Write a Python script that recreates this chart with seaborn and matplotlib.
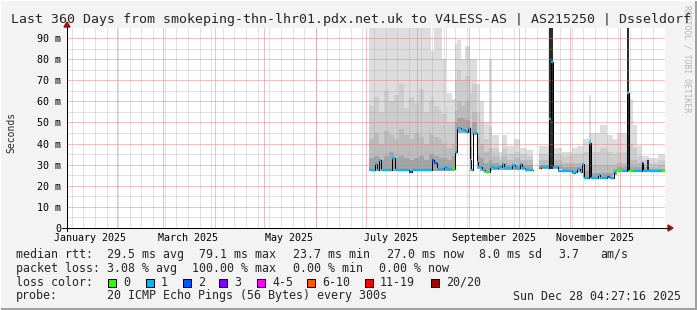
import numpy as np
import pandas as pd
import matplotlib
matplotlib.use("Agg")
import matplotlib.pyplot as plt
import matplotlib.transforms as mtrans
from matplotlib.patches import Rectangle, Polygon
from matplotlib.lines import Line2D
import seaborn as sns

nan = np.nan

# ---------------- data ----------------
TITLE = "Last 360 Days from smokeping-thn-lhr01.pdx.net.uk to V4LESS-AS | AS215250 | Dsseldorf"
view_start_day = 1.19      # days since 2025-01-01 00:00
view_end_day = 361.19
month_start_days = [0, 31, 59, 90, 120, 151, 181, 212, 243, 273, 304, 334]
month_label_days = [15, 74, 135, 196, 258, 319]
month_labels = ["January 2025", "March 2025", "May 2025", "July 2025",
                "September 2025", "November 2025"]
first_sunday_day = 4
y_ticks = [0, 10, 20, 30, 40, 50, 60, 70, 80, 90]
y_tick_labels = ["0", "10 m", "20 m", "30 m", "40 m", "50 m", "60 m", "70 m", "80 m", "90 m"]

# median rtt (ms) as steps: start day, value, loss class (-1 = no data)
med_day = [183.0, 186.6, 187.8, 189.0, 190.2, 196.8, 198.7, 207.1, 208.9, 220.9,
           222.1, 223.9, 228.1, 229.4, 233.0, 234.8, 236.0, 238.4, 240.8, 242.6,
           243.8, 244.5, 245.6, 248.0, 248.6, 251.0, 252.8, 255.8, 258.2, 260.6,
           263.0, 264.2, 269.1, 270.9, 273.9, 275.1, 276.9, 281.7, 285.3, 286.5,
           290.8, 291.4, 292.6, 293.5, 296.8, 305.2, 307.0, 308.2, 310.0, 311.0,
           312.4, 315.4, 316.6, 320.9, 322.1, 326.3, 328.1, 330.5, 331.1, 335.3,
           338.3, 339.8, 341.9, 347.3, 348.2, 359.4]
med_ms = [27.5, 30.5, 27.5, 32.0, 27.5, 33.0, 27.5, 26.5, 27.5, 32.0,
          31.0, 28.0, 29.0, 28.0, 28.0, 36.0, 47.5, 46.5, 45.5, 47.5,
          32.0, 27.5, 45.0, 31.5, 29.0, 27.5, 26.5, 29.0, 28.5, 29.0,
          30.5, 28.5, 30.0, 28.5, 30.5, 28.5, 27.5, nan, 28.5, 29.0,
          28.5, 51.6, 78.8, 29.0, 27.0, 26.0, 26.7, 28.0, 26.7, 30.5,
          23.9, 40.3, 23.6, 25.0, 23.6, 24.2, 23.6, 26.5, 27.2, 27.2,
          64.0, 27.2, 27.2, 30.8, 27.2, 27.0]
med_loss = [1, 1, 1, 1, 1, 1, 1, 2, 1, 2,
            2, 1, 1, 1, 0, 1, 1, 1, 1, 1,
            1, 1, 1, 1, 1, 1, 0, 1, 1, 1,
            1, 1, 1, 1, 1, 1, 1, -1, 5, 1,
            1, 1, 1, 1, 1, 1, 1, 1, 1, 1,
            1, 1, 1, 1, 1, 2, 1, 1, 0, 1,
            1, 0, 1, 3, 1, 0]

# smoke (ping spread, ms) per bucket start day
smoke_day = [183, 186, 189, 192, 195, 198, 201, 204, 207, 210,
             213, 216, 219, 220.5, 222.2, 225, 227.2, 229.4, 230, 233,
             234.8, 236, 238.5, 241, 243.8, 245, 248, 250, 252, 255,
             257, 261, 263, 266, 270, 274, 278, 281.7, 285.3, 291.4,
             293.8, 299, 305, 308, 311.8, 315.4, 316.6, 322.1, 326.3, 329.9,
             332.5, 338.3, 339.8, 341.9, 344.5, 347.3, 350.5, 351.5, 357]
smoke_max = [100, 100, 100, 100, 100, 100, 100, 100, 100, 100,
             100, 100, 100, 84, 100, 100, 80, 100, 64, 61,
             87, 89, 80, 86, 80, 80, 68, 60, 50, 80,
             44, 36, 44, 39, 42, 38, 37, nan, 39, 100,
             38, 36, 38, 39, 42, 63, 45, 49, 44, 42,
             45, 100, 61, 49, 39, 34, 34, 33, 35]
smoke_p2 = [58, 62, 55, 65, 60, 63, 68, 57, 62, 59,
            66, 55, 60, 62, 58, 56, 54, 58, 50, 50,
            70, 75, 70, 72, 64, 68, 55, 50, 42, 48,
            38, 34, 38, 35, 36, 35, 34, nan, 35, 100,
            35, 34, 35, 35, 36, 45, 36, 38, 36, 35,
            36, 100, 40, 38, 34, 32, 33, 31, 32]
smoke_p3 = [42, 45, 40, 46, 44, 42, 47, 44, 42, 45,
            43, 40, 45, 44, 43, 42, 40, 42, 38, 40,
            56, 60, 58, 60, 48, 55, 42, 40, 36, 38,
            34, 32, 34, 32, 33, 32, 32, nan, 32, 100,
            32, 31, 31, 31, 30, 42, 30, 30, 30, 30,
            31, 100, 32, 32, 31, 30, 32, 29, 30]
smoke_p4 = [33, 34, 32, 34, 36, 33, 34, 33, 32, 33,
            34, 32, 35, 35, 34, 33, 33, 33, 32, 34,
            50, 52, 52, 51, 38, 50, 34, 33, 31, 32,
            31, 30, 31, 30, 30, 30, 30, nan, 30, 100,
            30, 29, 29, 29, 27, 41, 26, 26, 26, 28,
            29, 100, 29, 29, 29, 29, 32, 28, 28]
smoke_core = [27, 27, 27, 27, 27, 27, 27, 27, 27, 27,
              27, 27, 27, 27, 27, 27, 27, 27, 27, 27,
              35, 45, 45, 45, 27, 44, 28, 27, 26, 27,
              27.5, 27.5, 27.5, 27.5, 27.5, 27.5, 27.5, nan, 28, 100,
              28, 27, 26, 26.5, 23.5, 40, 23.5, 23.5, 23.5, 25,
              27, 100, 27, 27, 27, 27, 32, 27, 27]
smoke_min = [27, 27, 27, 27, 27, 27, 27, 27, 27, 27,
             27, 27, 27, 27, 27, 27, 27, 27, 27, 27,
             35, 45, 45, 45, 27, 44, 28, 27, 26, 27,
             27.5, 27.5, 27.5, 27.5, 27.5, 27.5, 27.5, nan, 28, 28,
             28, 27, 26, 26.5, 23.5, 23.5, 23.5, 23.5, 23.5, 25,
             27, 27, 27, 27, 27, 27, 27, 27, 27]

loss_labels = ["0", "1", "2", "3", "4-5", "6-10", "11-19", "20/20"]
loss_colors = ["#26ff00", "#00b8ff", "#0059ff", "#7e00ff", "#ff00ff",
               "#ff5500", "#ff0000", "#a10000"]

legend_rtt = [("median rtt:", 16), ("29.5 ms avg", 107), ("79.1 ms max", 199),
              ("23.7 ms min", 293), ("27.0 ms now", 386.5), ("8.0 ms sd", 479),
              ("3.7", 558), ("am/s", 600)]
legend_loss = [("packet loss:", 16), ("3.08 % avg", 107), ("100.00 % max", 192),
               ("0.00 % min", 293), ("0.00 % now", 379)]
probe_text = "20 ICMP Echo Pings (56 Bytes) every 300s"
stamp_text = "Sun Dec 28 04:27:16 2025"

# ---------------- figure ----------------
sns.set_style("white")
plt.rcParams["font.family"] = ["DejaVu Sans Mono"]

W, H = 697, 310
BG = "#f3f3f3"
fig = plt.figure(figsize=(W / 100, H / 100), dpi=100, facecolor=BG)


def fx(x):
    return x / W


def fy(y):
    return 1 - y / H


PX = 0.72  # one pixel in points
ax = fig.add_axes([fx(67), fy(228), (665 - 67) / W, (228 - 28) / H])
ax.set_facecolor("white")
ax.set_xlim(view_start_day, view_end_day)
ax.set_ylim(0, 200 / 2.111)
for s in ax.spines.values():
    s.set_visible(False)


def expand(starts, vals, end):
    xs, ys = [], []
    for i, v in enumerate(vals):
        e = starts[i + 1] if i + 1 < len(starts) else end
        xs += [starts[i], e]
        ys += [v, v]
    return np.array(xs, float), np.array(ys, float)


sx, lo = expand(smoke_day, smoke_min, view_end_day)
layers = [(smoke_max, "#dddddd"), (smoke_p2, "#cdcdcd"),
          (smoke_p3, "#bcbcbc"), (smoke_p4, "#a4a4a4"),
          (smoke_core, "#2b2b2b")]
for hi_vals, col in layers:
    _, hi = expand(smoke_day, hi_vals, view_end_day)
    ax.fill_between(sx, lo, hi, color=col, lw=0, zorder=1)

# grid: thin pixel-snapped lines, tinted like rrdtool's dotted grid
MAJ = (0.93, 0.45, 0.45, 0.45)
MIN = (0.6, 0.6, 0.6, 0.28)
grid_lines = []
for v in np.arange(5, 95, 5):
    grid_lines.append(ax.axhline(v, color=MAJ if v % 10 == 0 else MIN, lw=PX, zorder=2))
for d in np.arange(first_sunday_day, view_end_day, 7):
    grid_lines.append(ax.axvline(d, color=MIN, lw=PX, zorder=2))
for d in month_start_days:
    if view_start_day < d < view_end_day:
        grid_lines.append(ax.axvline(d, color=MAJ, lw=PX, zorder=2.1))
for ln in grid_lines:
    ln.set_snap(True)

# median line (black steps) through seaborn
rows = []
seg = 0
for i, v in enumerate(med_ms):
    e = med_day[i + 1] if i + 1 < len(med_day) else view_end_day
    if np.isnan(v):
        seg += 1
        continue
    rows.append((med_day[i], v, seg))
    rows.append((e, v, seg))
med_df = pd.DataFrame(rows, columns=["day", "ms", "seg"])
sns.lineplot(data=med_df, x="day", y="ms", units="seg", estimator=None, sort=False,
             color="black", lw=PX, ax=ax, zorder=3, legend=False)

# loss-coloured median segments
for i, v in enumerate(med_ms):
    if np.isnan(v) or med_loss[i] < 0:
        continue
    e = med_day[i + 1] if i + 1 < len(med_day) else view_end_day
    ax.hlines(v, med_day[i], e, colors=loss_colors[med_loss[i]], lw=2.3 * PX,
              zorder=4, capstyle="butt")

ax.set_xlabel("")
ax.set_ylabel("")

# ticks
ax.set_xticks([d for d in month_start_days if view_start_day < d < view_end_day])
ax.set_xticklabels([])
ax.tick_params(axis="x", length=3 * PX, width=PX, color="#e07a7a", direction="out")
ax.set_yticks(y_ticks, labels=y_tick_labels)
ax.tick_params(axis="y", length=3 * PX, width=PX, color="#e07a7a", direction="out",
               pad=2.2, labelsize=7.2, labelcolor="black")
for lab in ax.get_yticklabels():
    lab.set_fontfamily("DejaVu Sans Mono")

xlab_tr = mtrans.blended_transform_factory(ax.transData, fig.transFigure)
for d, lab in zip(month_label_days, month_labels):
    ax.text(d, fy(241), lab, transform=xlab_tr, ha="center", va="baseline",
            fontsize=7.2, color="black", clip_on=False)

# axes lines with arrows
fig.add_artist(Line2D([fx(62), fx(669)], [fy(228), fy(228)], color="black", lw=PX))
fig.add_artist(Line2D([fx(67), fx(67)], [fy(231), fy(26)], color="black", lw=PX))
fig.add_artist(Polygon([(fx(668), fy(225)), (fx(668), fy(231)), (fx(673), fy(228))],
                       closed=True, color="#a01010", transform=fig.transFigure))
fig.add_artist(Polygon([(fx(64), fy(27)), (fx(70), fy(27)), (fx(67), fy(22))],
                       closed=True, color="#a01010", transform=fig.transFigure))

# texts (watermark first so the title is drawn over it)
fig.text(fx(687), fy(5), "RRDTOOL / TOBI OETIKER", rotation=270, ha="center", va="top",
         fontsize=5.9, color="#b5b5b5", zorder=1)
fig.text(fx(350.5), fy(23.3), TITLE, ha="center", va="baseline", fontsize=9.55, zorder=5)
fig.text(fx(11), fy(132), "Seconds", rotation=90, ha="center", va="center", fontsize=7.0)

LEG = 8.37
for txt, x in legend_rtt:
    fig.text(fx(x), fy(257.7), txt, ha="left", va="baseline", fontsize=LEG)
for txt, x in legend_loss:
    fig.text(fx(x), fy(271.7), txt, ha="left", va="baseline", fontsize=LEG)
fig.text(fx(16), fy(285.7), "loss color:", ha="left", va="baseline", fontsize=LEG)
box_x = [108, 146, 183, 219, 257, 307, 365, 431]
for bx, lab, col in zip(box_x, loss_labels, loss_colors):
    fig.add_artist(Rectangle((fx(bx), fy(286.5)), 8 / W, 8 / H, transform=fig.transFigure,
                             facecolor=col, edgecolor="black", lw=PX))
    fig.text(fx(bx + 15), fy(285.7), lab, ha="left", va="baseline", fontsize=LEG)
fig.text(fx(16), fy(299.5), "probe:", ha="left", va="baseline", fontsize=LEG)
fig.text(fx(107), fy(299.5), probe_text, ha="left", va="baseline", fontsize=LEG)
fig.text(fx(681), fy(299.5), stamp_text, ha="right", va="baseline", fontsize=LEG)

# frame
fig.add_artist(Rectangle((fx(695), 0), 2 / W, 1, transform=fig.transFigure,
                         facecolor="#a0a0a0", lw=0))
fig.add_artist(Rectangle((0, 0), 1, 2 / H, transform=fig.transFigure,
                         facecolor="#a0a0a0", lw=0))
fig.add_artist(Rectangle((0, fy(1)), 1, 1 / H, transform=fig.transFigure,
                         facecolor="#ffffff", lw=0))
fig.add_artist(Rectangle((0, 0), 1 / W, 1, transform=fig.transFigure,
                         facecolor="#ffffff", lw=0))

fig.savefig("out.png", dpi=100, facecolor=BG)
